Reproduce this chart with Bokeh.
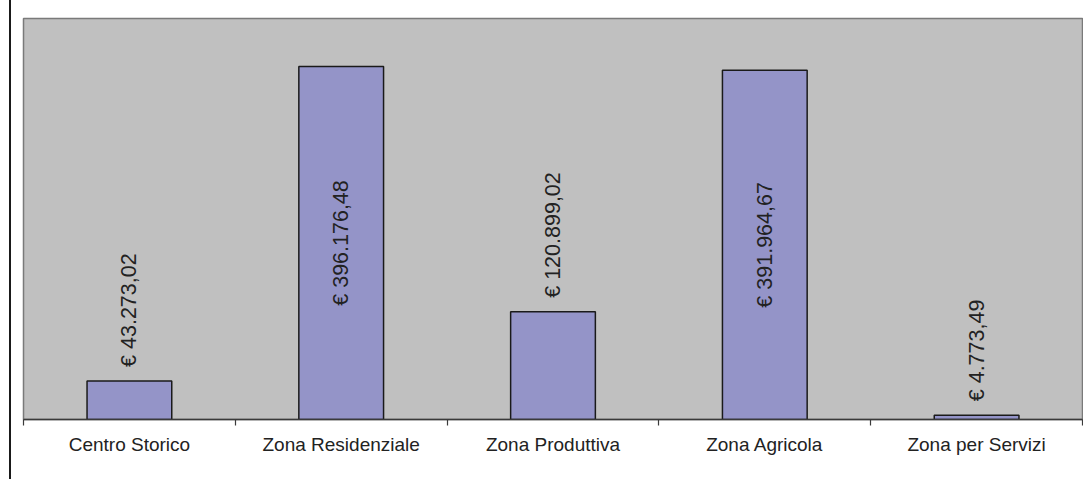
from bokeh.plotting import figure
from bokeh.models import (ColumnDataSource, Range1d, LinearAxis, FixedTicker,
                          CustomJSTickFormatter, Div)
from bokeh.layouts import row
from bokeh.core.properties import value
from bokeh.embed import file_html
from bokeh.resources import INLINE

categories = ["Centro Storico", "Zona Residenziale", "Zona Produttiva", "Zona Agricola", "Zona per Servizi"]
amounts = [43273.02, 396176.48, 120899.02, 391964.67, 4773.49]
labels = ["€ 43.273,02", "€ 396.176,48", "€ 120.899,02", "€ 391.964,67", "€ 4.773,49"]
y_max = 450000

FONT = "Liberation Sans"
n = len(categories)
centers = [i + 0.5 for i in range(n)]   # category slot centres on the x scale
edges = list(range(n + 1))              # category slot boundaries

p = figure(x_range=Range1d(0, n), y_range=Range1d(0, y_max),
           width=1072, height=479, output_backend="svg", toolbar_location=None,
           x_axis_location=None, y_axis_location=None,
           min_border_left=12, min_border_right=1, min_border_top=18, min_border_bottom=60)
p.margin = (0, 0, 0, 0)
p.background_fill_color = "#c0c0c0"
p.border_fill_color = "white"
p.outline_line_color = "#7a7a7a"
p.outline_line_width = 1.5
p.xgrid.visible = False
p.ygrid.visible = False

src = ColumnDataSource(dict(x=centers, amt=amounts, lbl=labels))
p.vbar(x="x", top="amt", width=0.4, source=src, fill_color="#9494c8",
       line_color="#1a1a1a", line_width=1.5)

inside = [i for i, v in enumerate(amounts) if v > 0.6 * y_max]
outside = [i for i, v in enumerate(amounts) if v <= 0.6 * y_max]

src_in = ColumnDataSource(dict(x=[centers[i] for i in inside],
                               mid=[amounts[i] / 2 for i in inside],
                               lbl=[labels[i] for i in inside]))
src_out = ColumnDataSource(dict(x=[centers[i] for i in outside],
                                amt=[amounts[i] for i in outside],
                                lbl=[labels[i] for i in outside]))

p.text(x="x", y="mid", text="lbl", source=src_in, angle=1.5707963,
       text_align="center", text_baseline="middle", text_font=value(FONT),
       text_font_size="21.5px", text_color="#222222")
p.text(x="x", y="amt", text="lbl", source=src_out, angle=1.5707963, y_offset=-14,
       text_align="left", text_baseline="middle", text_font=value(FONT),
       text_font_size="21.5px", text_color="#222222")

xaxis = LinearAxis(ticker=FixedTicker(ticks=centers, minor_ticks=edges),
                   formatter=CustomJSTickFormatter(args=dict(cats=categories),
                                                   code="const i = Math.round(tick - 0.5); return cats[i] || '';"))
xaxis.axis_line_color = "#3a3a3a"
xaxis.axis_line_width = 1.5
xaxis.major_tick_line_color = None
xaxis.major_tick_out = 6
xaxis.major_tick_in = 0
xaxis.minor_tick_line_color = "#3a3a3a"
xaxis.minor_tick_line_width = 1.2
xaxis.minor_tick_out = 6
xaxis.minor_tick_in = 0
xaxis.major_label_standoff = 8
xaxis.major_label_text_font = FONT
xaxis.major_label_text_font_size = "19px"
xaxis.major_label_text_color = "#222222"
p.add_layout(xaxis, "below")

edge = Div(width=2, height=479, margin=(0, 0, 0, 9), styles={"background-color": "#1a1a1a"})
layout = row(edge, p, spacing=0)

open("out.html", "w").write(file_html(layout, INLINE))
